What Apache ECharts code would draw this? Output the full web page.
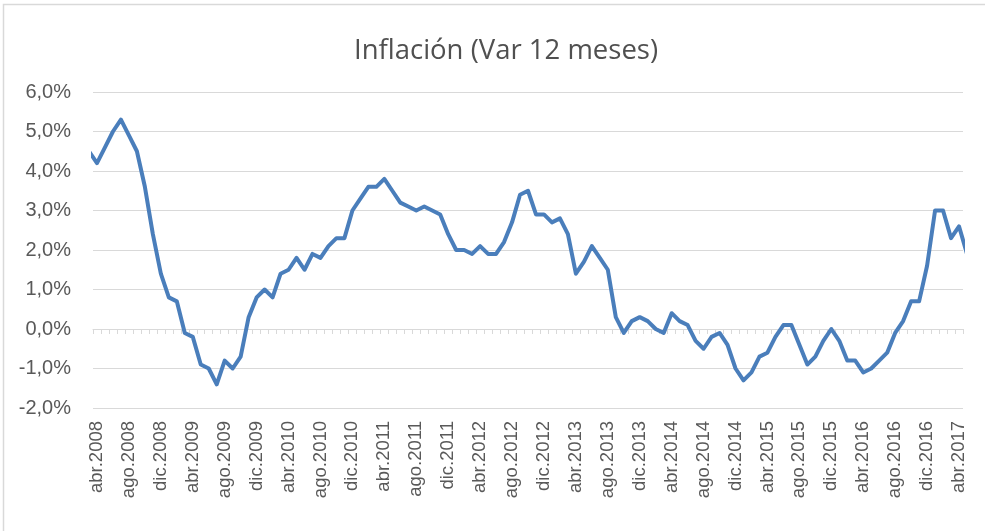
<!DOCTYPE html>
<html>
<head>
<meta charset="utf-8">
<title>Inflación (Var 12 meses)</title>
<script src="https://cdn.jsdelivr.net/npm/echarts@6/dist/echarts.min.js"></script>
<style>
  html, body { margin: 0; padding: 0; background: #fff; }
  #chart { width: 985px; height: 531px; }
</style>
</head>
<body>
<div id="chart"></div>
<script>
// months shown on the axis: abr.2008 .. abr.2017
const monthNames = ['ene', 'feb', 'mar', 'abr', 'may', 'jun', 'jul', 'ago', 'sep', 'oct', 'nov', 'dic']
const categories = []
for (let k = 0; k < 109; k++) {
  const m = (3 + k) % 12
  const y = 2008 + Math.floor((3 + k) / 12)
  categories.push(monthNames[m] + '.' + y)
}

// values from mar.2008 to may.2017 (first and last only partly visible at the edges)
const values2008 = [4.5, 4.2, 4.6, 5.0, 5.3, 4.9, 4.5, 3.6, 2.4, 1.4]
const values2009 = [0.8, 0.7, -0.1, -0.2, -0.9, -1.0, -1.4, -0.8, -1.0, -0.7, 0.3, 0.8]
const values2010 = [1.0, 0.8, 1.4, 1.5, 1.8, 1.5, 1.9, 1.8, 2.1, 2.3, 2.3, 3.0]
const values2011 = [3.3, 3.6, 3.6, 3.8, 3.5, 3.2, 3.1, 3.0, 3.1, 3.0, 2.9, 2.4]
const values2012 = [2.0, 2.0, 1.9, 2.1, 1.9, 1.9, 2.2, 2.7, 3.4, 3.5, 2.9, 2.9]
const values2013 = [2.7, 2.8, 2.4, 1.4, 1.7, 2.1, 1.8, 1.5, 0.3, -0.1, 0.2, 0.3]
const values2014 = [0.2, 0.0, -0.1, 0.4, 0.2, 0.1, -0.3, -0.5, -0.2, -0.1, -0.4, -1.0]
const values2015 = [-1.3, -1.1, -0.7, -0.6, -0.2, 0.1, 0.1, -0.4, -0.9, -0.7, -0.3, 0.0]
const values2016 = [-0.3, -0.8, -0.8, -1.1, -1.0, -0.8, -0.6, -0.1, 0.2, 0.7, 0.7, 1.6]
const values2017 = [3.0, 3.0, 2.3, 2.6, 1.9]

const values = [].concat(values2008, values2009, values2010, values2011, values2012,
  values2013, values2014, values2015, values2016, values2017)
// index 0 on the axis = abr.2008, so mar.2008 sits at -1
const points = values.map((v, i) => [i - 1, v])

const textColor = '#595959'
const gridColor = '#d9d9d9'

const chart = echarts.init(document.getElementById('chart'))
chart.setOption({
  animation: false,
  title: {
    text: 'Inflación (Var 12 meses)',
    left: 501,
    textAlign: 'center',
    top: 32,
    textStyle: { fontFamily: 'Open Sans', fontSize: 27.5, fontWeight: 'normal', color: '#505050' }
  },
  graphic: [{
    type: 'rect',
    shape: { x: 3.5, y: 4.5, width: 1000, height: 600 },
    style: { fill: 'none', stroke: gridColor, lineWidth: 1.5 },
    silent: true
  }],
  grid: { left: 93, right: 22, top: 92, bottom: 123 },
  xAxis: [
    {
      // labels along the bottom
      type: 'category',
      data: categories,
      boundaryGap: true,
      position: 'bottom',
      axisLine: { show: false, onZero: false },
      axisTick: { show: false },
      axisLabel: {
        interval: 3,
        rotate: 90,
        margin: 13,
        color: textColor,
        fontFamily: 'Liberation Sans',
        fontSize: 18.5
      }
    },
    {
      // axis line with monthly ticks at 0%
      type: 'category',
      data: categories,
      boundaryGap: true,
      position: 'bottom',
      axisLine: { show: true, onZero: true, lineStyle: { color: gridColor, width: 1 } },
      axisTick: { show: true, interval: 0, length: 5, lineStyle: { color: gridColor } },
      axisLabel: { show: false }
    },
    {
      // hidden numeric axis for the line, so edge months clip like the original
      type: 'value',
      min: -0.5,
      max: 108.5,
      show: false,
      axisLine: { onZero: false }
    }
  ],
  yAxis: {
    type: 'value',
    min: -2,
    max: 6,
    interval: 1,
    axisLine: { show: false, onZero: false },
    axisTick: { show: false },
    splitLine: { lineStyle: { color: gridColor, width: 1 } },
    axisLabel: {
      margin: 22,
      color: textColor,
      fontFamily: 'Liberation Sans',
      fontSize: 20,
      formatter: v => v.toFixed(1).replace('.', ',') + '%'
    }
  },
  series: [{
    type: 'line',
    xAxisIndex: 2,
    data: points,
    clip: true,
    showSymbol: false,
    smooth: false,
    lineStyle: { color: '#4a7ebb', width: 4, join: 'round' }
  }]
})
</script>
</body>
</html>
